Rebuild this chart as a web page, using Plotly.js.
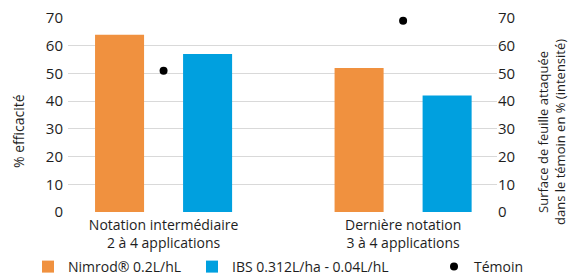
<!DOCTYPE html>
<html>
<head>
<meta charset="utf-8">
<script src="https://cdn.plot.ly/plotly-3.0.1.min.js"></script>
<style>html,body{margin:0;padding:0;background:#fff;}#chart{width:571px;height:278px;}</style>
</head>
<body>
<div id="chart"></div>
<script>
// ---- data ----
const categories = ['Notation intermédiaire<br>2 à 4 applications', 'Dernière notation<br>3 à 4 applications'];
const nimrodValues = [64, 52];
const ibsValues = [57, 42];
const temoinValues = [51, 69];
const yTickValues = [0, 10, 20, 30, 40, 50, 60, 70];
const seriesNames = ['Nimrod® 0.2L/hL', 'IBS 0.312L/ha - 0.04L/hL', 'Témoin'];

const FONT = 'Open Sans, sans-serif';
const TXT = '#1e1e1e';

const traces = [
  {type: 'bar', name: seriesNames[0], x: categories, y: nimrodValues, yaxis: 'y',
   marker: {color: '#F0913F'}, legend: 'legend', hoverinfo: 'skip'},
  {type: 'bar', name: seriesNames[1], x: categories, y: ibsValues, yaxis: 'y',
   marker: {color: '#00A0DF'}, legend: 'legend2', hoverinfo: 'skip'},
  {type: 'scatter', mode: 'markers', name: seriesNames[2], x: categories, y: temoinValues, yaxis: 'y2',
   marker: {color: '#000', size: 8}, cliponaxis: false, legend: 'legend3', hoverinfo: 'skip'}
];

const legendBase = {orientation: 'h', xref: 'container', yref: 'container', xanchor: 'left', yanchor: 'middle',
  y: 11/278, bgcolor: 'rgba(0,0,0,0)', borderwidth: 0, font: {family: FONT, size: 14, color: TXT}};

const layout = {
  width: 571, height: 278,
  margin: {l: 68, r: 74, t: 18, b: 66, pad: 0},
  paper_bgcolor: '#fff', plot_bgcolor: '#fff',
  font: {family: FONT, color: TXT},
  barmode: 'group', bargap: 0.265, bargroupgap: 0.443,
  showlegend: true,
  xaxis: {type: 'category', range: [-0.399, 1.392], showgrid: false, zeroline: false, showline: false,
    ticks: '', ticklabelstandoff: 3, tickfont: {family: FONT, size: 14, color: TXT}},
  yaxis: {range: [0, 70], tickvals: yTickValues, showgrid: true, gridcolor: '#d9d9d9', gridwidth: 1,
    zeroline: false, showline: false, ticks: '', ticklabelstandoff: 4, tickfont: {family: FONT, size: 15, color: TXT}},
  yaxis2: {range: [0, 70], tickvals: yTickValues, overlaying: 'y', side: 'right', showgrid: false,
    zeroline: false, showline: false, ticks: '', tickfont: {family: FONT, size: 15, color: TXT}},
  legend: Object.assign({}, legendBase, {x: 28/571}),
  legend2: Object.assign({}, legendBase, {x: 192/571}),
  legend3: Object.assign({}, legendBase, {x: 434/571}),
  annotations: [
    {text: '% efficacité', xref: 'paper', yref: 'paper', x: (18-68)/429, y: (212-131)/194,
     textangle: -90, showarrow: false, font: {family: FONT, size: 14, color: TXT}, xanchor: 'center', yanchor: 'middle'},
    {text: 'Surface de feuille attaquée<br>dans le témoin en % (intensité)', xref: 'paper', yref: 'paper',
     x: (551-68)/429, y: (212-132)/194, textangle: -90, showarrow: false,
     font: {family: FONT, size: 13, color: TXT}, xanchor: 'center', yanchor: 'middle'}
  ]
};

Plotly.newPlot('chart', traces, layout, {displayModeBar: false, staticPlot: true});
</script>
</body>
</html>
